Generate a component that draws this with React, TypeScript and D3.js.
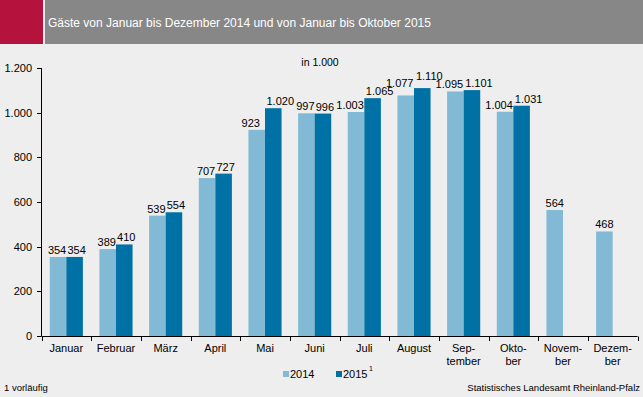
import React from 'react';
import * as d3 from 'd3';

const months = [
  ['Januar'], ['Februar'], ['März'], ['April'], ['Mai'], ['Juni'], ['Juli'], ['August'],
  ['Sep-', 'tember'], ['Okto-', 'ber'], ['Novem-', 'ber'], ['Dezem-', 'ber'],
];
const values2014 = [354, 389, 539, 707, 923, 997, 1003, 1077, 1095, 1004, 564, 468];
const values2015 = [354, 410, 554, 727, 1020, 996, 1065, 1110, 1101, 1031];
const yTicks = [0, 200, 400, 600, 800, 1000, 1200];

const W = 643;
const H = 397;
const light = '#82b9d5';
const dark = '#0071a4';
const font = '"Liberation Sans", Arial, sans-serif';

const fmt = (v: number) => d3.format(',')(v).replace(/,/g, '.');
// rough text width for 11px Liberation Sans
const textW = (s: string) => s.split('').reduce((w, c) => w + (c === '.' ? 3.1 : 6.1), 0);

export default function App() {
  const x = d3.scaleBand<number>().domain(d3.range(12)).range([41.5, 637.5]);
  const inner = d3.scaleBand<number>().domain([0, 1]).range([0, x.bandwidth()]).paddingOuter(0.5).paddingInner(0);
  const y = d3.scaleLinear().domain([0, 1200]).range([336, 68]);

  const series = [
    { vals: values2014, color: light, k: 0 },
    { vals: values2015, color: dark, k: 1 },
  ];

  // push neighbouring labels apart when one of them is wide
  const labelShift = (k: number, i: number) => {
    const a = values2014[i];
    const b = values2015[i];
    if (b === undefined) return 0;
    const wide = a >= 1000 || b >= 1000;
    if (k === 0) return wide ? -6 : -1;
    return wide ? 7 : 2;
  };

  // label layout, left to right, lifting one of two colliding labels
  type Lab = { text: string; cx: number; by: number; w: number };
  const labels: Lab[] = [];
  months.forEach((_, i) => {
    series.forEach((s) => {
      const v = s.vals[i];
      if (v === undefined) return;
      const bx = (x(i) as number) + (inner(s.k) as number);
      const text = fmt(v);
      const cur: Lab = { text, cx: bx + inner.bandwidth() / 2 + labelShift(s.k, i), by: y(v) - 3, w: textW(text) };
      const prev = labels[labels.length - 1];
      if (prev) {
        const hOverlap = Math.abs(cur.cx - prev.cx) < (cur.w + prev.w) / 2;
        const vOverlap = Math.abs(cur.by - prev.by) < 9;
        if (hOverlap && vOverlap) {
          if (cur.by <= prev.by) cur.by = Math.min(cur.by, prev.by - 8);
          else prev.by = cur.by - 8;
        }
      }
      labels.push(cur);
    });
  });

  return (
    <svg width={W} height={H} style={{ position: 'absolute', left: 0, top: 0 }} fontFamily={font}>
      <rect x={0} y={0} width={W} height={H} fill="#edeeed" />
      <rect x={0} y={0} width={43} height={44} fill="#b5123e" />
      <rect x={45} y={0} width={W - 45} height={44} fill="#878787" />
      <text x={48} y={27} fill="#fff" fontSize={12}>
        Gäste von Januar bis Dezember 2014 und von Januar bis Oktober 2015
      </text>
      <text x={320} y={66} fontSize={10.5} textAnchor="middle" fill="#000">in 1.000</text>

      {series.map((s) =>
        s.vals.map((v, i) => {
          const bx = (x(i) as number) + (inner(s.k) as number);
          return <rect key={`${s.k}-${i}`} x={bx} y={y(v)} width={inner.bandwidth()} height={y(0) - y(v)} fill={s.color} />;
        })
      )}
      {labels.map((l, j) => (
        <text key={j} x={l.cx} y={l.by} fontSize={11} textAnchor="middle" fill="#000">{l.text}</text>
      ))}

      {/* y axis */}
      <line x1={41.5} x2={41.5} y1={y(1200)} y2={y(0)} stroke="#000" />
      {yTicks.map((t) => (
        <g key={t}>
          <line x1={37} x2={41.5} y1={Math.round(y(t)) + 0.5} y2={Math.round(y(t)) + 0.5} stroke="#000" />
          <text x={32} y={y(t) + 4} fontSize={11} textAnchor="end" fill="#000">{fmt(t)}</text>
        </g>
      ))}

      {/* x axis */}
      <line x1={41.5} x2={637.5} y1={336.5} y2={336.5} stroke="#000" />
      {d3.range(13).map((i) => {
        const tx = Math.round(41.5 + i * x.step()) + 0.5;
        return <line key={i} x1={tx} x2={tx} y1={336.5} y2={341} stroke="#000" />;
      })}
      {months.map((m, i) => (
        <text key={i} x={(x(i) as number) + x.bandwidth() / 2} y={352} fontSize={11} textAnchor="middle" fill="#000">
          {m.map((line, j) => (
            <tspan key={j} x={(x(i) as number) + x.bandwidth() / 2} dy={j === 0 ? 0 : 13}>{line}</tspan>
          ))}
        </text>
      ))}

      {/* legend */}
      <rect x={283} y={371} width={6} height={6} fill={light} />
      <text x={290} y={378} fontSize={11} fill="#000">2014</text>
      <rect x={336} y={371} width={6} height={6} fill={dark} />
      <text x={343} y={378} fontSize={11} fill="#000">2015</text>
      <text x={369} y={371} fontSize={7} fill="#000">1</text>

      <text x={4} y={391} fontSize={9.5} fill="#000">1 vorläufig</text>
      <text x={640} y={391} fontSize={9.5} textAnchor="end" fill="#000">Statistisches Landesamt Rheinland-Pfalz</text>
    </svg>
  );
}
